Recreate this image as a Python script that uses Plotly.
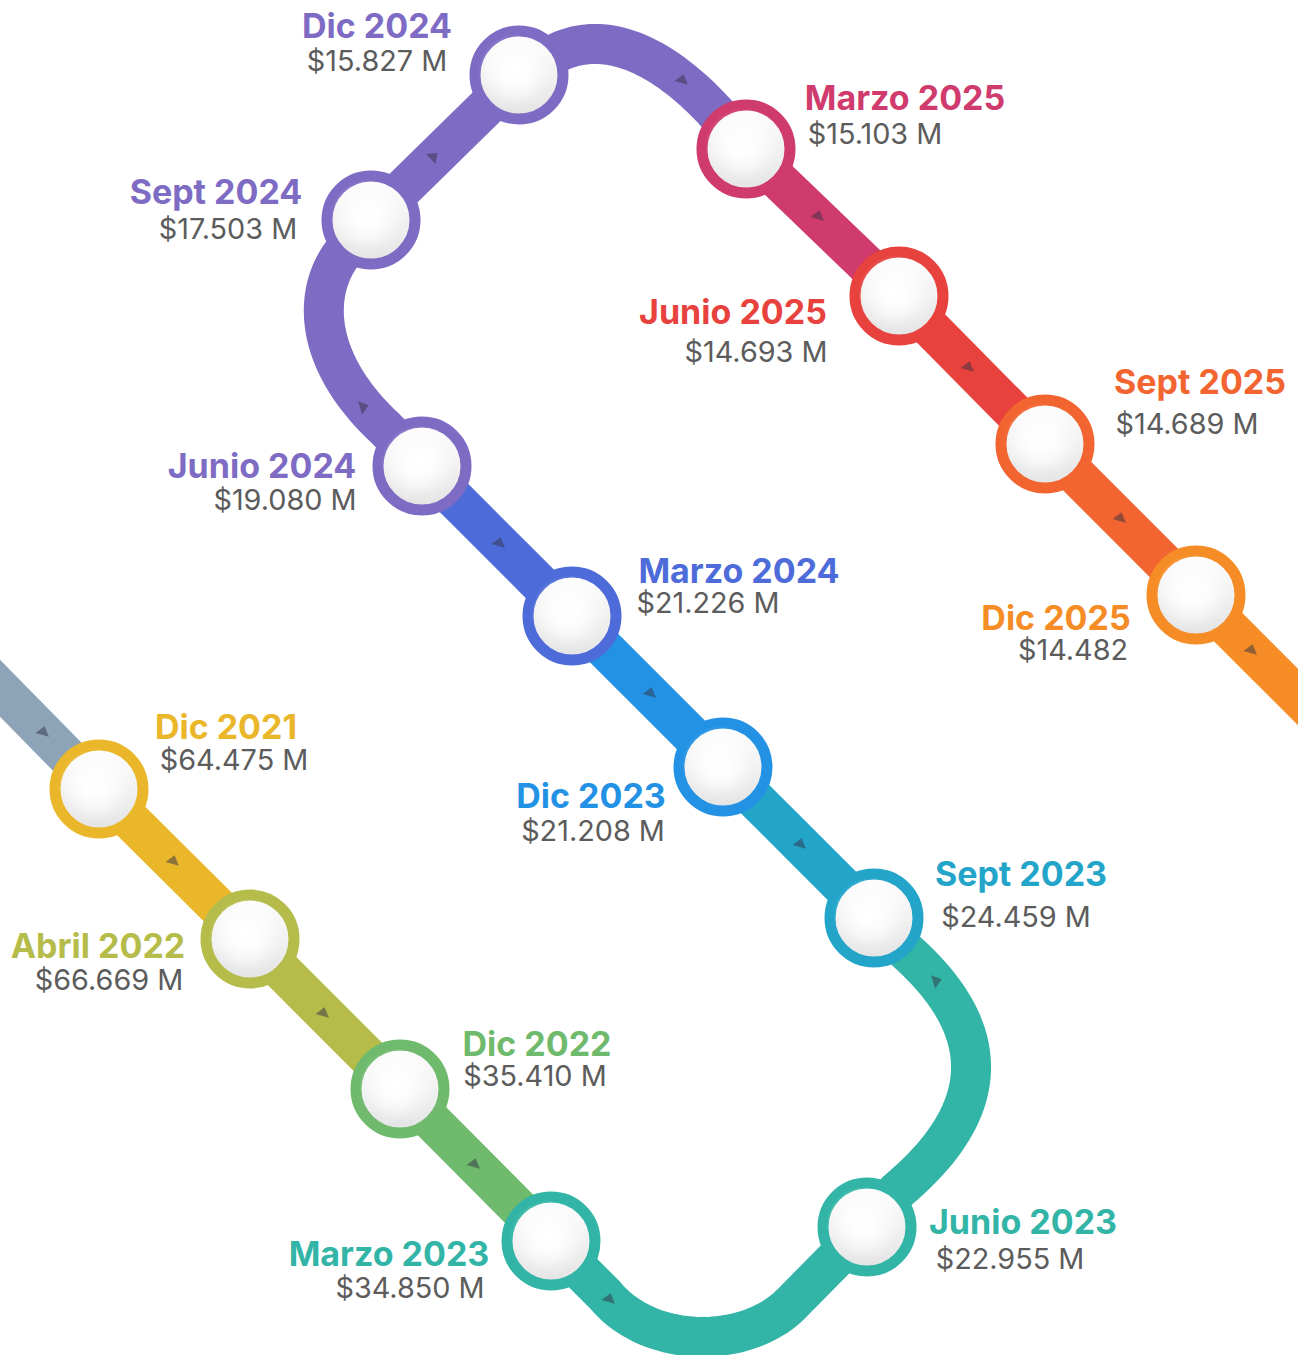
import plotly.graph_objects as go

FONT = "Inter"
periods = ["Dic 2021","Abril 2022","Dic 2022","Marzo 2023","Junio 2023","Sept 2023","Dic 2023","Marzo 2024",
           "Junio 2024","Sept 2024","Dic 2024","Marzo 2025","Junio 2025","Sept 2025","Dic 2025"]
amounts = ["$64.475 M","$66.669 M","$35.410 M","$34.850 M","$22.955 M","$24.459 M","$21.208 M","$21.226 M",
           "$19.080 M","$17.503 M","$15.827 M","$15.103 M","$14.693 M","$14.689 M","$14.482"]
station_x = [99,250,400,551,867,874,723,572,422,371,519,746,899,1045,1196]
station_y = [789,939,1089,1241,1227,918,767,616,466,220,75,149,296,444,595]
colors = ["#EAB72A","#B5BC4A","#6FBA6C","#32B5A6","#32B5A6","#22A5C9","#2492E4","#4D6CD9",
          "#7E6BC4","#7E6BC4","#7E6BC4","#CF3B6C","#E8423E","#F26430","#F58C25"]
title_x = [226,98,537,389,1023,1021,591,739,262,216,377,905,733,1200,1056]
title_y = [730,949,1047,1257,1225,877,799,574,469,195,29,101,315,385,621]
value_x = [234,109,535,410,1010,1016,593,708,285,228,377,875,756,1187,1073]
value_y = [763,983,1079,1291,1262,920,834,606,503,232,64,137,355,427,653]
arrow_x = [43,173,323,474,609,936,800,650,499,363,433,682,818,968,1120,1251]
arrow_y = [732,861,1013,1164,1299,981,844,693,543,407,157,80,216,367,518,650]
arrow_angle = [15,15,15,15,15,73,15,15,15,73,47,15,15,15,15,15]
lead_in_x, lead_in_y, lead_in_color = [-20,99], [668,789], "#8CA3B8"
lead_out_x, lead_out_y = [1196,1320], [595,719]
# Bezier control points of the rounded track sections
curve_a = [(605,1295),(650,1350),(750,1350),(795,1300)]
curve_b = [(897,1191),(994,1110),(994,1030),(907,952)]
curve_c = [(385,428),(312,360),(312,290),(345,250)]
curve_d = [(545,60),(580,35),(640,30),(717,114)]


def bez(c, n=40):
    xs, ys = [], []
    for i in range(n + 1):
        t = i / n
        u = 1 - t
        xs.append(u**3*c[0][0] + 3*u*u*t*c[1][0] + 3*u*t*t*c[2][0] + t**3*c[3][0])
        ys.append(u**3*c[0][1] + 3*u*u*t*c[1][1] + 3*u*t*t*c[2][1] + t**3*c[3][1])
    return xs, ys


def station(i):
    return [station_x[i]], [station_y[i]]


fig = go.Figure()


def track(xs, ys, color):
    fig.add_trace(go.Scatter(x=xs, y=ys, mode="lines", line=dict(color=color, width=40, simplify=False),
                             hoverinfo="skip", showlegend=False))


track(lead_in_x, lead_in_y, lead_in_color)
curves = {3: curve_a, 4: curve_b, 8: curve_c, 10: curve_d}
for i in range(len(periods) - 1):
    sx, sy = station(i)
    ex, ey = station(i + 1)
    if i in curves:
        bx, by = bez(curves[i])
        track(sx + bx + ex, sy + by + ey, colors[i])
    else:
        track(sx + ex, sy + ey, colors[i])
track(lead_out_x, lead_out_y, colors[-1])

fig.add_trace(go.Scatter(x=arrow_x, y=arrow_y, mode="markers",
                         marker=dict(symbol="triangle-up", size=12, angle=arrow_angle, color="rgba(50,50,70,0.5)", line=dict(width=0)),
                         hoverinfo="skip", showlegend=False))
fig.add_trace(go.Scatter(x=station_x, y=station_y, mode="markers",
                         marker=dict(size=88, color="#FFFFFF", gradient=dict(type="vertical", color="#E3E3E3"),
                                     line=dict(color=colors, width=11)),
                         hoverinfo="skip", showlegend=False))
fig.add_trace(go.Scatter(x=[v - 3 for v in station_x], y=[v - 3 for v in station_y], mode="markers",
                         marker=dict(size=76, color="rgba(255,255,255,0)", gradient=dict(type="radial", color="#FFFFFF"),
                                     line=dict(width=0)),
                         hoverinfo="skip", showlegend=False))
fig.add_trace(go.Scatter(x=[v - 5 for v in station_x], y=[v - 5 for v in station_y], mode="markers",
                         marker=dict(size=64, color="rgba(255,255,255,0)", gradient=dict(type="radial", color="#FFFFFF"),
                                     line=dict(width=0)),
                         hoverinfo="skip", showlegend=False))
fig.add_trace(go.Scatter(x=title_x, y=title_y, mode="text", text=periods, textposition="middle center",
                         textfont=dict(family=FONT, size=34, color=colors, weight=700),
                         hoverinfo="skip", showlegend=False, cliponaxis=False))
fig.add_trace(go.Scatter(x=value_x, y=value_y, mode="text", text=amounts, textposition="middle center",
                         textfont=dict(family=FONT, size=28.8, color="#5C5C5C", weight=400),
                         hoverinfo="skip", showlegend=False, cliponaxis=False))

fig.update_layout(width=1298, height=1355, margin=dict(l=0, r=0, t=0, b=0),
                  paper_bgcolor="white", plot_bgcolor="white", showlegend=False,
                  xaxis=dict(range=[0, 1298], visible=False, fixedrange=True),
                  yaxis=dict(range=[1355, 0], visible=False, fixedrange=True))
fig.write_html("out.html", config=dict(displayModeBar=False),
               post_script="document.body.style.margin='0';document.documentElement.style.overflow='hidden';")
